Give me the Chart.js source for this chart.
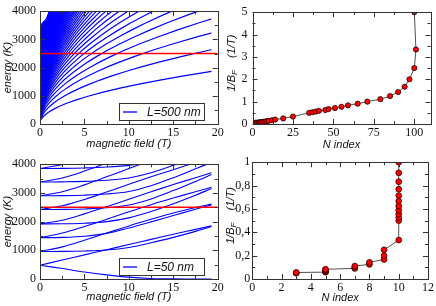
<!DOCTYPE html>
<html>
<head>
<meta charset="utf-8">
<script src="https://cdn.jsdelivr.net/npm/chart.js@4.4.1/dist/chart.umd.min.js"></script>
<style>
  html, body { margin: 0; background: #fff; }
  #wrap { position: relative; width: 436px; height: 306px; overflow: hidden; }
  canvas { position: absolute; }
</style>
</head>
<body>
<div id="wrap">
  <canvas id="cTL" width="226" height="153" style="left:0;top:0"></canvas>
  <canvas id="cBL" width="226" height="153" style="left:0;top:153px"></canvas>
  <canvas id="cTR" width="218" height="153" style="left:218px;top:0"></canvas>
  <canvas id="cBR" width="218" height="153" style="left:218px;top:153px"></canvas>
</div>
<script>
// ── Data: top-left, L = 500 nm level fan ─────────
// lowest level; level n follows it with the field divided by n
const fanField   = [0, 0.005, 0.02, 0.05, 0.1, 0.2, 0.3, 0.45, 0.6, 0.8, 1, 1.5, 2.2, 3, 4, 5.5, 7, 9, 11, 13.5, 16, 19.3, 23, 27, 32, 38, 45, 53, 62, 72, 84, 96];
const fanEnergy  = [0, 30, 60, 95, 134, 190, 232, 284, 328, 379, 424, 519, 629, 734, 848, 994, 1122, 1272, 1406, 1558, 1696, 1863, 2033, 2203, 2398, 2614, 2844, 3087, 3338, 3598, 3886, 4154];
const fanLevels  = 85;
const fanEnd     = 19.3;
// outline of the solid blue patch next to the energy axis
const edgeField  = [0, 0, 0.3, 0.68, 1.05, 0.5, 0.25, 0.1, 0.03, 0];
const edgeEnergy = [0, 3470, 3600, 3720, 4000, 2760, 1950, 1240, 680, 0];
const fermiField  = [0, 20];
const fermiEnergy = [2500, 2500];

// ── Data: bottom-left, L = 50 nm levels ──────────
const dotField = [0, 2.5, 5, 7.5, 10, 12.5, 15, 17.5, 19.3];
const dotLevels = [
  [480, 365, 245, 145, 65, 20, 3, 0, 0],
  [480, 660, 840, 1020, 1200, 1380, 1560, 1730, 1850],
  [960, 962, 975, 1010, 1100, 1260, 1450, 1660, 1830],
  [960, 1120, 1350, 1600, 1850, 2080, 2300, 2490, 2610],
  [1440, 1450, 1490, 1590, 1780, 1990, 2210, 2430, 2580],
  [1440, 1600, 1830, 2080, 2340, 2590, 2820, 3040, 3200],
  [1920, 1925, 1945, 2000, 2130, 2350, 2620, 2920, 3150],
  [1920, 2050, 2270, 2520, 2780, 3040, 3290, 3530, 3700],
  [2420, 2425, 2440, 2480, 2580, 2790, 3080, 3400, 3640],
  [2420, 2550, 2770, 3030, 3300, 3560, 3810, 4060],
  [2900, 2905, 2920, 2960, 3050, 3250, 3530, 3840, 4060],
  [2900, 3040, 3280, 3560, 3850, 4130],
  [3380, 3385, 3400, 3440, 3520, 3700, 3960, 4240],
  [3380, 3520, 3760, 4040],
  [3850, 3855, 3870, 3900, 3960, 4080],
  [3850, 3990, 4230]
];

// ── Data: right panels, 1/B_F against N ──────────
const nIndex500 = [2, 2, 3, 3, 4, 4, 5, 5, 6, 6, 7, 8, 9, 10, 12, 14, 19, 25,
                   35, 37, 39, 41, 45, 47, 51, 55, 59, 65, 71,
                   79, 85, 90, 94, 97, 100, 101, 100];
const invB500   = [0.05, 0.0526, 0.0556, 0.0588, 0.0625, 0.0667, 0.0714, 0.0769, 0.0833, 0.0909, 0.1, 0.111, 0.125, 0.143, 0.167, 0.2, 0.25, 0.333,
                   0.5, 0.526, 0.556, 0.588, 0.625, 0.667, 0.714, 0.769, 0.833, 0.909, 1,
                   1.111, 1.25, 1.429, 1.667, 2, 2.5, 3.333, 5];
const nIndex50  = [3, 3, 3, 5, 5, 5, 5, 5, 5, 7, 7, 7, 8, 8, 9, 9, 9,
                   10, 10, 10, 10, 10, 10, 10, 10, 10, 10, 10, 10];
const invB50    = [0.05, 0.0526, 0.0556, 0.0588, 0.0625, 0.0667, 0.0714, 0.0769, 0.0833, 0.0909, 0.1, 0.111, 0.125, 0.143, 0.167, 0.2, 0.25,
                   0.333, 0.5, 0.526, 0.556, 0.588, 0.625, 0.667, 0.714, 0.769, 0.833, 0.909, 1];

// ── Ticks ────────────────────────────────────────
const fieldTicks   = [0, 5, 10, 15, 20];
const energyTicks  = [0, 1000, 2000, 3000, 4000];
const nTicks500    = [0, 25, 50, 75, 100];
const invTicks500  = [0, 1, 2, 3, 4, 5];
const nTicks50     = [0, 2, 4, 6, 8, 10, 12];
const invTicks50   = [0, 0.2, 0.4, 0.6, 0.8, 1];
const invLabels50  = ['0', '0,2', '0,4', '0,6', '0,8', '1'];

// ── Style ────────────────────────────────────────
const BLUE = '#0000ff', RED = '#ff0000', INK = '#111', FRAME = '#333';
const SERIF = "'Liberation Serif', 'Times New Roman', serif";
const SANS  = "'Liberation Sans', Arial, Helvetica, sans-serif";
const $ = id => document.getElementById(id);
const pts = (xs, ys) => ys.map((y, i) => ({ x: xs[i], y }));

// ── Plugins ──────────────────────────────────────
const onMajor = (v, step) => Math.abs(v / step - Math.round(v / step)) < 1e-6;

const frameTicks = {
  id: 'frameTicks',
  afterDatasetsDraw(chart, args, o) {
    const { ctx, chartArea: a, scales: { x, y } } = chart;
    ctx.save();
    ctx.strokeStyle = FRAME;
    ctx.lineWidth = 1;
    ctx.beginPath();
    for (let v = x.min; v <= x.max + 1e-9; v += o.xMinor) {
      const px = Math.round(x.getPixelForValue(v)) + 0.5;
      const len = onMajor(v, o.xMajor) ? 5 : 3;
      ctx.moveTo(px, a.bottom); ctx.lineTo(px, a.bottom - len);
      ctx.moveTo(px, a.top);    ctx.lineTo(px, a.top + len);
    }
    for (let v = y.min; v <= y.max + 1e-9; v += o.yMinor) {
      const py = Math.round(y.getPixelForValue(v)) + 0.5;
      const len = onMajor(v, o.yMajor) ? 5 : 3;
      ctx.moveTo(a.left, py);  ctx.lineTo(a.left + len, py);
      ctx.moveTo(a.right, py); ctx.lineTo(a.right - len, py);
    }
    ctx.stroke();
    ctx.strokeRect(Math.round(a.left) + 0.5, Math.round(a.top) + 0.5,
                   Math.round(a.right - a.left), Math.round(a.bottom - a.top));
    ctx.restore();
  }
};

// clip the fan lines where the computed field range ends
const cutField = {
  id: 'cutField',
  beforeDatasetDraw(chart, args) {
    const cut = chart.data.datasets[args.index].cutAt;
    if (cut === undefined) return;
    const { ctx, chartArea: a, scales: { x } } = chart;
    ctx.save();
    ctx.beginPath();
    ctx.rect(a.left, a.top, x.getPixelForValue(cut) - a.left, a.bottom - a.top);
    ctx.clip();
  },
  afterDatasetDraw(chart, args) {
    if (chart.data.datasets[args.index].cutAt !== undefined) chart.ctx.restore();
  }
};

const boxLegend = {
  id: 'boxLegend',
  afterDraw(chart, args, o) {
    if (!o.text) return;
    const { ctx, chartArea: a } = chart;
    const bx = Math.round(a.left + 79) + 0.5, by = Math.round(a.bottom - 21.5) + 0.5;
    ctx.save();
    ctx.fillStyle = '#fff';
    ctx.fillRect(bx, by, 85, 17);
    ctx.strokeStyle = FRAME;
    ctx.lineWidth = 1;
    ctx.strokeRect(bx, by, 85, 17);
    ctx.strokeStyle = BLUE;
    ctx.lineWidth = 1.3;
    ctx.beginPath();
    ctx.moveTo(bx + 3.5, by + 8.5); ctx.lineTo(bx + 17.5, by + 8.5);
    ctx.stroke();
    ctx.fillStyle = INK;
    ctx.font = `italic 12px ${SANS}`;
    ctx.textBaseline = 'middle';
    ctx.fillText(o.text, bx + 27.5, by + 9);
    ctx.restore();
  }
};

// y title with a subscript: 1/B_F   (1/T)
const subTitle = {
  id: 'subTitle',
  afterDraw(chart, args, o) {
    if (!o.on) return;
    const { ctx, chartArea: a } = chart;
    const big = `italic 11px ${SANS}`, small = `italic 8px ${SANS}`;
    ctx.save();
    ctx.font = big;
    const w1 = ctx.measureText('1/B').width, w3 = ctx.measureText('    (1/T)').width;
    ctx.font = small;
    const w2 = ctx.measureText('F').width;
    ctx.translate(o.x, (a.top + a.bottom) / 2 - 5);
    ctx.rotate(-Math.PI / 2);
    ctx.fillStyle = INK;
    ctx.textBaseline = 'middle';
    let s = -(w1 + w2 + w3) / 2;
    ctx.font = big;   ctx.fillText('1/B', s, 0); s += w1;
    ctx.font = small; ctx.fillText('F', s, 3);   s += w2;
    ctx.font = big;   ctx.fillText('    (1/T)', s, 0);
    ctx.restore();
  }
};

// ── Chart builder ────────────────────────────────
function scaleX(min, max, ticks, labels, h, title, pad) {
  return {
    type: 'linear', min, max,
    afterBuildTicks: s => { s.ticks = ticks.map(v => ({ value: v })); },
    afterFit: s => { s.height = h; },
    grid: { display: false, drawTicks: false },
    border: { display: false },
    ticks: { font: { family: SERIF, size: 12 }, color: INK, padding: 2, maxRotation: 0,
             callback: (v, i) => labels[i] },
    title: { display: true, text: title, color: INK, padding: { top: 0, bottom: pad },
             font: { family: SANS, size: 11, style: 'italic' } }
  };
}
function scaleY(min, max, ticks, labels, w, title, tickPad) {
  return {
    type: 'linear', min, max,
    afterBuildTicks: s => { s.ticks = ticks.map(v => ({ value: v })); },
    afterFit: s => { s.width = w; },
    grid: { display: false, drawTicks: false },
    border: { display: false },
    ticks: { font: { family: SERIF, size: 12 }, color: INK, padding: tickPad,
             callback: (v, i) => labels[i] },
    title: { display: !!title, text: title || '', color: INK, padding: { top: 1.7, bottom: 0 },
             font: { family: SANS, size: 11, style: 'italic' } }
  };
}
function makeChart(id, datasets, x, y, pad, frame, extra) {
  return new Chart($(id), {
    type: 'scatter',
    data: { datasets },
    options: {
      responsive: false, animation: false, events: [],
      layout: { padding: pad, autoPadding: false },
      scales: { x, y },
      plugins: Object.assign({ legend: { display: false }, tooltip: { enabled: false }, frameTicks: frame }, extra)
    },
    plugins: [cutField, frameTicks, boxLegend, subTitle]
  });
}

const lineSet = (data, color, width, more) => Object.assign({
  data, showLine: true, borderColor: color, borderWidth: width, pointRadius: 0,
  fill: false, tension: 0
}, more);

// ── Top-left ─────────────────────────────────────
const tlSets = [lineSet(pts(fermiField, fermiEnergy), RED, 1.5)];
for (let n = 1; n <= fanLevels; n++) {
  tlSets.push(lineSet(pts(fanField.map(b => b / n), fanEnergy), BLUE, 1.2, { cutAt: fanEnd }));
}
tlSets.push(lineSet(pts(edgeField, edgeEnergy), BLUE, 1, { fill: 'shape', backgroundColor: BLUE }));

makeChart('cTL', tlSets,
  scaleX(0, 20, fieldTicks, fieldTicks.map(String), 29, 'magnetic field (T)', 2.9),
  scaleY(0, 4000, energyTicks, energyTicks.map(String), 40, 'energy (K)', 4),
  { top: 5, right: 8.3, left: 0, bottom: 0 },
  { xMajor: 5, xMinor: 2.5, yMajor: 1000, yMinor: 500 },
  { boxLegend: { text: 'L=500 nm' } });

// ── Bottom-left ──────────────────────────────────
const blSets = [lineSet(pts(fermiField, fermiEnergy), RED, 1.5)];
dotLevels.forEach(lv => blSets.push(lineSet(pts(dotField, lv), BLUE, 1.1, { tension: 0.35 })));

makeChart('cBL', blSets,
  scaleX(0, 20, fieldTicks, fieldTicks.map(String), 27, 'magnetic field (T)', 2.6),
  scaleY(0, 4000, energyTicks, energyTicks.map(String), 40, 'energy (K)', 4),
  { top: 7.3, right: 8.3, left: 0, bottom: 0 },
  { xMajor: 5, xMinor: 2.5, yMajor: 1000, yMinor: 500 },
  { boxLegend: { text: 'L=50 nm' } });

// ── Right panels ─────────────────────────────────
const dotSet = (data, r) => ({
  data, showLine: true, borderColor: '#222', borderWidth: 0.8,
  pointRadius: r, pointBackgroundColor: RED, pointBorderColor: '#200', pointBorderWidth: 0.8
});

makeChart('cTR', [dotSet(pts(nIndex500, invB500), 2.6)],
  scaleX(0, 110, nTicks500, nTicks500.map(String), 29, 'N index', 1.4),
  scaleY(0, 5, invTicks500, invTicks500.map(String), 34.5, '', 5),
  { top: 5, right: 5.5, left: 0, bottom: 0 },
  { xMajor: 25, xMinor: 12.5, yMajor: 1, yMinor: 0.5 },
  { subTitle: { on: true, x: 14 } });

makeChart('cBR', [dotSet(pts(nIndex50, invB50), 2.9)],
  scaleX(0, 12, nTicks50, nTicks50.map(String), 27, 'N index', 1.4),
  scaleY(0, 1, invTicks50, invLabels50, 34.3, '', 2),
  { top: 6.7, right: 7.3, left: 0, bottom: 0 },
  { xMajor: 2, xMinor: 1, yMajor: 0.2, yMinor: 0.1 },
  { subTitle: { on: true, x: 13 } });
</script>
</body>
</html>
